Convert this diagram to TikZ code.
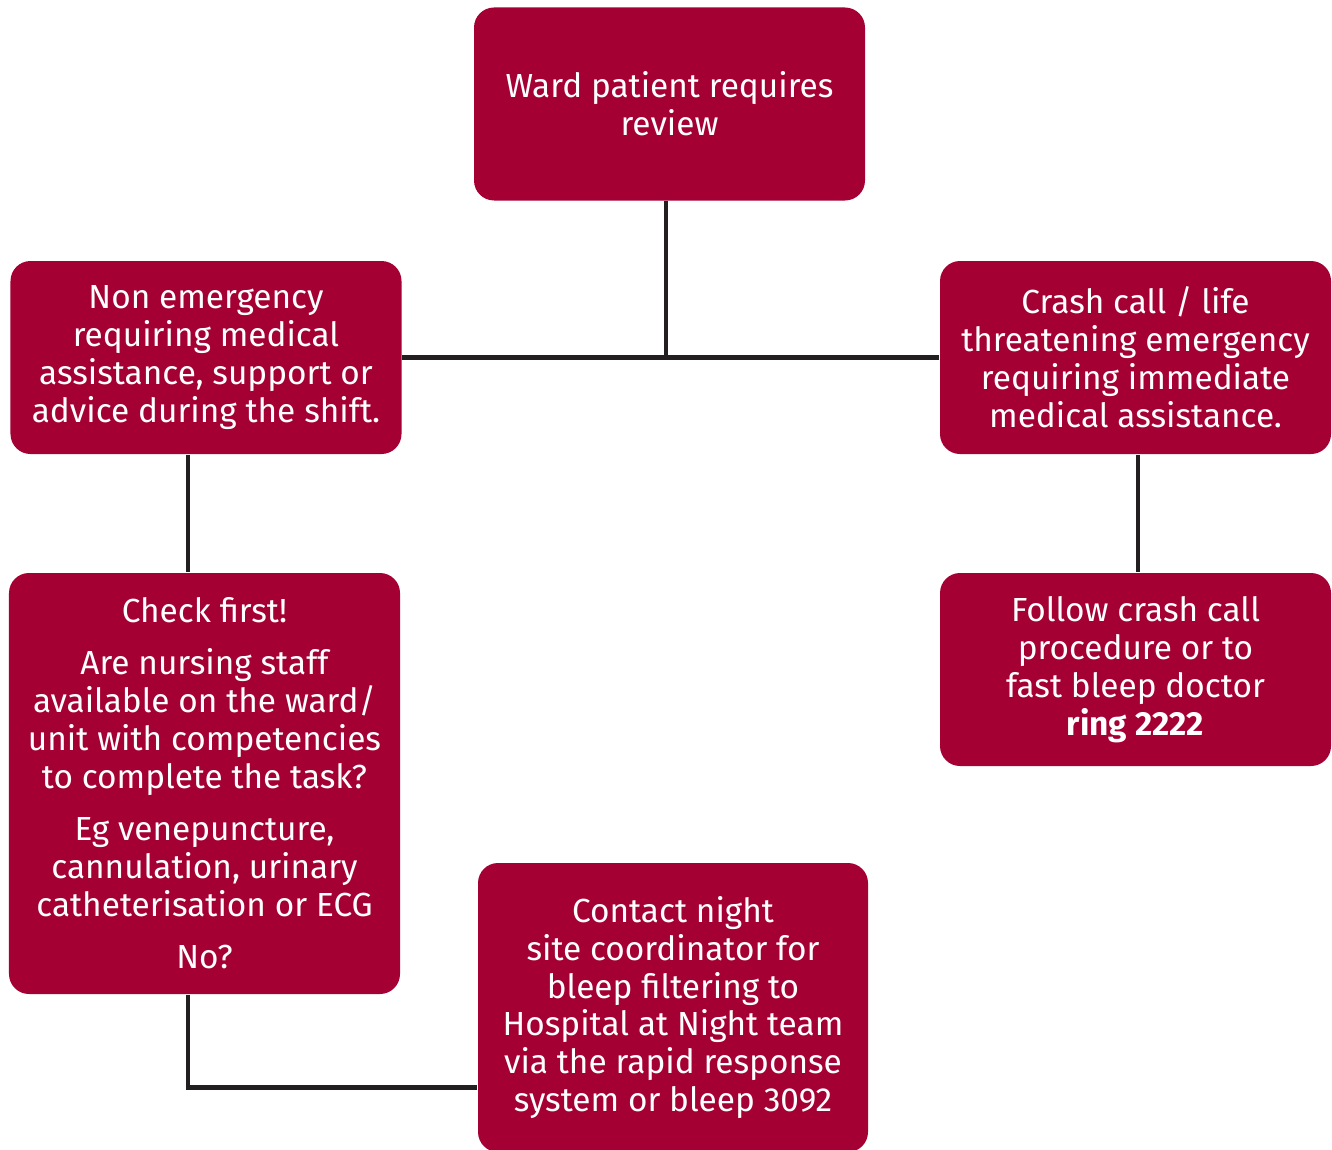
\documentclass[tikz,border=0pt]{standalone}
\usepackage{fontspec}
\setmainfont{Fira Sans}
\usepackage{xcolor}
\usetikzlibrary{positioning,calc}
\definecolor{wardred}{HTML}{A50034}
\definecolor{linegray}{HTML}{231F20}

\begin{document}
\begin{tikzpicture}[
    font=\fontsize{9.5}{10.8}\selectfont,
    box/.style={
        fill=wardred,
        text=white,
        rounded corners=2mm,
        minimum width=3.91cm,
        minimum height=1.93cm,
        inner sep=0pt,
        align=center
    },
    link/.style={draw=linegray, line width=1.4pt}
]
\useasboundingbox (0,0) rectangle (13.32,-11.49);

% first row
\node[box] (ward) at (6.695,-1.04)
{Ward patient requires\\ review};

\node[box] (nonemerg) at (2.06,-3.575)
{Non emergency\\
requiring medical\\
assistance, support or\\
advice during the shift.};

\node[box] (crash) at (11.355,-3.575)
{Crash call / life\\
threatening emergency\\
requiring immediate\\
medical assistance.};

% second row
\node[box, minimum height=4.21cm] (check) at (2.045,-7.835)
{Check first!\\[4pt]
Are nursing staff\\
available on the ward/\\
unit with competencies\\
to complete the task?\\[4pt]
Eg venepuncture,\\
cannulation, urinary\\
catheterisation or ECG\\[4pt]
No?};

\node[box] (follow) at (11.355,-6.695)
{Follow crash call\\
procedure or to\\
fast bleep doctor\\
\textbf{ring 2222}};

\node[box, minimum width=3.9cm, minimum height=2.89cm] (contact) at (6.73,-10.075)
{Contact night\\
site coordinator for\\
bleep filtering to\\
Hospital at Night team\\
via the rapid response\\
system or bleep 3092};

% connectors
\coordinate (lx) at (1.88,0);
\coordinate (mx) at (6.66,0);
\draw[link] (nonemerg.east) -- (crash.west);
\draw[link] (ward.south -| mx) -- (nonemerg.east -| mx);
\draw[link] (nonemerg.south -| lx) -- (check.north -| lx);
\draw[link] ([xshift=0.025cm]crash.south) -- ([xshift=0.025cm]follow.north);
\draw[link] (check.south -| lx) |- ([yshift=-0.8cm]contact.west);

\end{tikzpicture}
\end{document}
